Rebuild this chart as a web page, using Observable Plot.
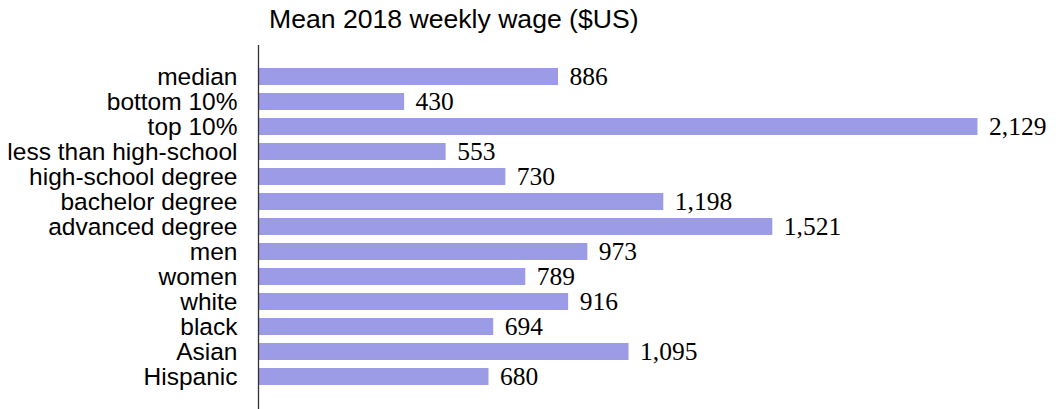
<!DOCTYPE html>
<html>
<head>
<meta charset="utf-8">
<script src="https://cdn.jsdelivr.net/npm/d3@7"></script>
<script src="https://cdn.jsdelivr.net/npm/@observablehq/plot@0.6"></script>
<style>
  html, body { margin: 0; padding: 0; background: #fff; }
  #wrap { position: relative; width: 1059px; height: 409px; overflow: hidden; }
  #title { position: absolute; left: 269px; top: 6px; font-family: "Liberation Sans", Arial, sans-serif; font-size: 26.6px; line-height: 26px; color: #000; white-space: nowrap; }
  #chart { position: absolute; left: 0; top: 45px; }
  #chart svg { display: block; }
</style>
</head>
<body>
<div id="wrap">
  <div id="title">Mean 2018 weekly wage ($US)</div>
  <div id="chart"></div>
</div>
<script>
const categories = ["median", "bottom 10%", "top 10%", "less than high-school", "high-school degree",
  "bachelor degree", "advanced degree", "men", "women", "white", "black", "Asian", "Hispanic"];
const wages = [886, 430, 2129, 553, 730, 1198, 1521, 973, 789, 916, 694, 1095, 680];

const data = categories.map((c, i) => ({category: c, wage: wages[i]}));
const fmt = d3.format(",");

const chart = Plot.plot({
  width: 1059,
  height: 364,
  marginLeft: 259,
  marginRight: 81.5,
  marginTop: 0,
  marginBottom: 0,
  style: {background: "transparent"},
  x: {domain: [0, 2129], axis: null},
  y: {domain: categories, padding: 0.33, insetTop: 12, insetBottom: 13.4, label: null},
  marks: [
    Plot.barX(data, {x: "wage", y: "category", fill: "#9b9be6"}),
    Plot.ruleX([0], {stroke: "#333", strokeWidth: 1.3, dx: -1}),
    Plot.text(data, {x: "wage", y: "category", text: d => fmt(d.wage), textAnchor: "start", dx: 11,
      fontFamily: "Palatino, 'Book Antiqua', 'Liberation Serif', serif", fontSize: 25.5, fill: "#000"}),
    Plot.axisY({tickSize: 0, tickPadding: 22, fontSize: 24.5, fontFamily: "'Liberation Sans', Arial, sans-serif", fill: "#000", label: null})
  ]
});
document.getElementById("chart").appendChild(chart);
</script>
</body>
</html>
